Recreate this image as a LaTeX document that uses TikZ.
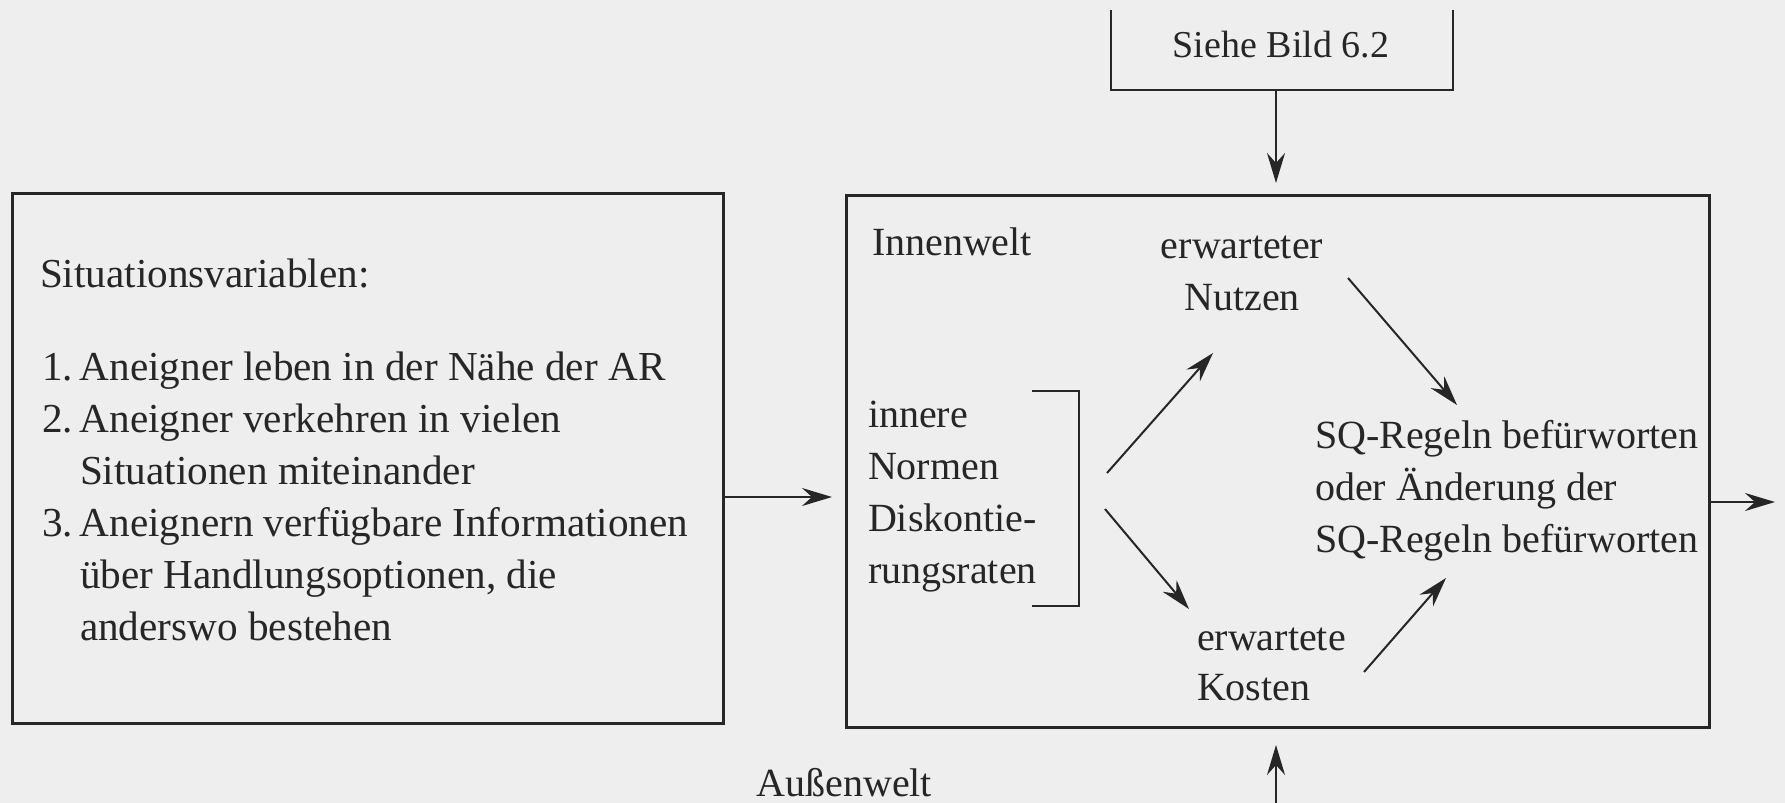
\documentclass[tikz,border=0pt]{standalone}
\usepackage{fontspec}
\setmainfont{Liberation Serif}
\usetikzlibrary{arrows.meta,fit}
\definecolor{ink}{HTML}{262626}
\definecolor{paper}{HTML}{EEEEEE}
\begin{document}
\begin{tikzpicture}[x=0.5pt,y=-0.5pt,
  every node/.style={inner sep=0pt, outer sep=0pt, text=ink, font=\fontsize{20}{24}\selectfont},
  frame/.style={draw=ink, line width=1.5pt},
  arr/.style={draw=ink, line width=1pt, -{Stealth[length=15pt,width=9pt,inset=5pt]}},
  txt/.style={anchor=base west},
  ltxt/.style={anchor=base west, font=\fontsize{20.6}{24}\selectfont},
  ctxt/.style={anchor=base},
  bracketline/.style={draw=ink, line width=1.3pt},
]
\fill[paper] (0,0) rectangle (1785,803);
\useasboundingbox (0,0) rectangle (1785,803);

% boxes
\node[frame, fit={(12,193) (723,723)}] (sit) {};
\node[frame, fit={(846,195) (1709,727)}] (inner) {};

% left box text
\node[ltxt] (h) at (40,287) {Situationsvariablen:};
\node[ltxt] (i1) at (42,380) {1.\,Aneigner leben in der Nähe der AR};
\node[ltxt] (i2) at (42,432) {2.\,Aneigner verkehren in vielen};
\node[ltxt] (i2b) at (80,484) {Situationen miteinander};
\node[ltxt] (i3) at (42,536) {3.\,Aneignern verfügbare Informationen};
\node[ltxt] (i3b) at (80,588) {über Handlungsoptionen, die};
\node[ltxt] (i3c) at (80,640) {anderswo bestehen};

% right box text
\node[txt] (iw) at (872,255) {Innenwelt};
\node[ctxt] (en) at (1242,258) {erwarteter};
\node[ctxt] (nu) at (1242,310) {Nutzen};
\node[txt] (n1) at (868,427) {innere};
\node[txt] (n2) at (868,479) {Normen};
\node[txt] (n3) at (868,531) {Diskontie-};
\node[txt] (n4) at (868,583) {rungsraten};
\node[txt] (ek) at (1197,650) {erwartete};
\node[txt] (ko) at (1197,700) {Kosten};
\node[txt] (s1) at (1315,448) {SQ-Regeln befürworten};
\node[txt] (s2) at (1315,500) {oder Änderung der};
\node[txt] (s3) at (1315,552) {SQ-Regeln befürworten};

% bracket around inner norms
\draw[bracketline] (1032,391) -- (1079,391) -- (1079,606) -- (1032,606);

% Siehe Bild 6.2
\node[ctxt, font=\fontsize{19}{24}\selectfont] (siehe) at (1281,57) {Siehe Bild 6.2};
\draw[bracketline] (1111,10) -- (1111,90) -- (1453,90) -- (1453,10);
\coordinate (sbot) at (1276,90);
\draw[arr, shorten >=6pt] (sbot) -- (sbot |- inner.north);

% Außenwelt
\node[anchor=base east] (aw) at (932,796) {Außenwelt};
\coordinate (bin) at (1276,803);
\draw[arr, shorten >=9pt] (bin) -- (bin |- inner.south);

% left -> inner
\coordinate (a1) at (723,497);
\draw[arr, shorten >=7pt] (a1) -- (a1 -| inner.west);

% output
\coordinate (outp) at (1775,502);
\draw[arr] (inner.east |- outp) -- (outp);

% internal arrows
\coordinate (u0) at (1107,473);
\coordinate (u1) at (1213,353);
\coordinate (d0) at (1105,509);
\coordinate (d1) at (1189,609);
\coordinate (p0) at (1348,278);
\coordinate (p1) at (1457,405);
\coordinate (k0) at (1364,672);
\coordinate (k1) at (1446,578);
\draw[arr] (u0) -- (u1);
\draw[arr] (d0) -- (d1);
\draw[arr] (p0) -- (p1);
\draw[arr] (k0) -- (k1);
\end{tikzpicture}
\end{document}
